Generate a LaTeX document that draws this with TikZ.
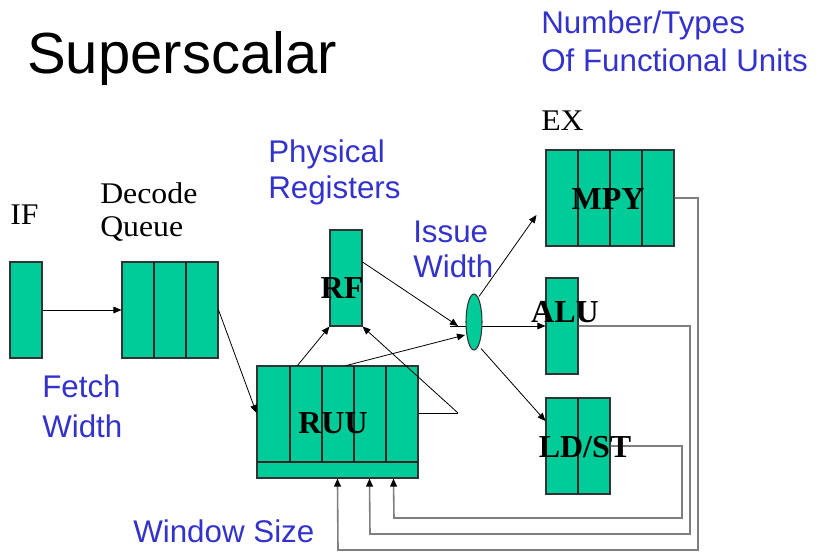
\documentclass[tikz,border=0pt]{standalone}
\usepackage{fontspec}
\usepackage{graphicx}
\setmainfont{Liberation Serif}
\newfontfamily\arialfont{Liberation Sans}
\usetikzlibrary{calc,arrows.meta,shapes.geometric}
\definecolor{unitgreen}{HTML}{00CC99}
\definecolor{noteblue}{HTML}{3333CC}
\definecolor{loopgray}{HTML}{7F7F7F}
\newcommand{\widetext}[1]{\scalebox{1.06}[1]{#1}}
\tikzset{
  unit/.style={draw=black!80, line width=0.8pt, fill=unitgreen, inner sep=0pt, rectangle},
  divider/.style={draw=black!85, line width=0.8pt},
  flow/.style={draw=black, line width=0.6pt, -{Triangle[length=6pt,width=5pt]}},
  plain/.style={draw=black, line width=0.6pt},
  loopback/.style={draw=loopgray, line width=1.2pt, -{Triangle[length=6pt,width=5pt,fill=black,color=black]}},
  note/.style={text=noteblue, font=\arialfont\fontsize{23.5}{28}\selectfont, anchor=base west, inner sep=0pt},
  stage/.style={text=black, font=\fontsize{22.5}{26}\selectfont, anchor=base west, inner sep=0pt},
  unitname/.style={text=black, font=\bfseries\fontsize{24}{28}\selectfont, inner sep=0pt}
}
\begin{document}
\begin{tikzpicture}[x=0.75pt,y=-0.75pt]
\useasboundingbox (0,0) rectangle (816,553);

% title
\node[anchor=base west, inner sep=0pt, font=\arialfont\fontsize{43.5}{50}\selectfont] (title) at (27,73) {Superscalar};

% pipeline units
\node[unit, minimum width=24pt, minimum height=72pt] (if) at (26,310) {};
\node[unit, minimum width=72pt, minimum height=72pt] (dec) at (170,310) {};
\draw[divider] (154,262) -- (154,358) (186,262) -- (186,358);

\node[unit, minimum width=120.75pt, minimum height=84pt] (ruu) at (337.5,422) {};
\draw[divider] (257,462) -- (418,462);
\foreach \xx in {290,322,354,386} \draw[divider] (\xx,366) -- (\xx,462);

\node[unit, minimum width=24pt, minimum height=72pt] (rf) at (346,278) {};

\node[unit, minimum width=96pt, minimum height=72pt] (mpy) at (610,198) {};
\foreach \xx in {578,610,642} \draw[divider] (\xx,150) -- (\xx,246);

\node[unit, minimum width=24pt, minimum height=72pt] (alu) at (562,326) {};

\node[unit, minimum width=48pt, minimum height=72pt] (ldst) at (578,446) {};
\draw[divider] (578,398) -- (578,494);

% connectors
\coordinate (split) at (458,413);
\coordinate (lane) at (450,326);
\draw[flow] (if.east) -- (dec.west);
\draw[flow] (dec.east) -- ($(ruu.west)+(0,-9)$);
\draw[flow] ($(ruu.north west)+(41,0)$) -- (rf.south west);
\draw[plain] ($(ruu.east)+(0,-9)$) -- (split);
\draw[flow] (split) -- (rf.south east);
\draw[flow] ($(rf.east)+(0,-16)$) -- (458,326);
\draw[flow] ($(ruu.north west)+(90,0)$) -- (465,335);
\draw[flow] (lane) -- (alu.west |- lane);

\node[ellipse, draw=black!80, line width=0.8pt, fill=unitgreen, minimum width=12pt, minimum height=42pt, inner sep=0pt] (iss) at (474,322) {};

\draw[flow] ($(iss.north)+(5,3)$) -- ($(mpy.west)+(-9,17)$);
\draw[flow] ($(iss.south)+(7,-2)$) -- ($(ldst.west)+(0,-25)$);

% results written back into the window
\draw[loopback] (mpy.east) -- (698,198) -- (698,550) -- (338,550) -- ($(ruu.south west)+(81,0)$);
\draw[loopback] (alu.east) -- (690,326) -- (690,534) -- (370,534) -- ($(ruu.south west)+(113,0)$);
\draw[loopback] (ldst.east) -- (682,446) -- (682,518) -- (394,518) -- ($(ruu.south west)+(137,0)$);

% unit names
\node[unitname] (ruulbl) at (333,423) {RUU};
\node[unitname] (rflbl) at (342,288) {RF};
\node[unitname] (mpylbl) at (608,199) {MPY};
\node[unitname] (alulbl) at (565,312) {ALU};
\node[unitname] (ldstlbl) at (585,447) {LD/ST};

% stage names
\node[stage] (iflbl) at (10,224) {\widetext{IF}};
\node[stage] (declbl1) at (100,203) {\widetext{Decode}};
\node[stage] (declbl2) at (100,236) {\widetext{Queue}};
\node[stage] (exlbl) at (541,130) {\widetext{EX}};

% design parameters
\node[note] (n1a) at (541,33) {Number/Types};
\node[note] (n1b) at (541,71) {Of Functional Units};
\node[note] (n2a) at (268,162) {Physical};
\node[note] (n2b) at (268,198) {Registers};
\node[note] (n3a) at (413,242) {Issue};
\node[note] (n3b) at (413,277) {Width};
\node[note] (n4a) at (42,397) {Fetch};
\node[note] (n4b) at (42,437) {Width};
\node[note] (n5) at (133,542) {Window Size};
\end{tikzpicture}
\end{document}
